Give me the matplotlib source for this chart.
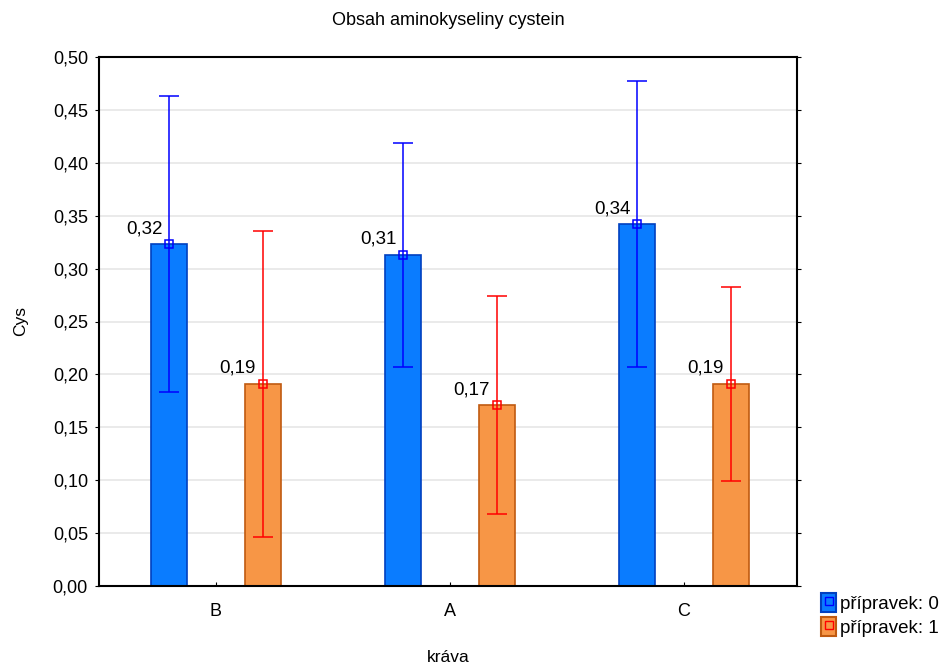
import numpy as np
import matplotlib.pyplot as plt
from matplotlib.patches import Patch
from matplotlib.lines import Line2D

plt.rcParams['font.family'] = ['Liberation Sans', 'DejaVu Sans']
plt.rcParams['font.size'] = 13

kravy = ['B', 'A', 'C']
prumer_0 = [0.323, 0.313, 0.342]
chyba_0 = [0.140, 0.106, 0.135]
prumer_1 = [0.191, 0.171, 0.191]
chyba_1 = [0.145, 0.103, 0.092]
popisky_0 = ['0,32', '0,31', '0,34']
popisky_1 = ['0,19', '0,17', '0,19']

x = np.arange(len(kravy))
sirka = 0.155
posun = 0.2

fig = plt.figure(figsize=(9.46, 6.64), dpi=100)
ax = fig.add_axes([99/946, 78/664, 698/946, 529/664])

ax.bar(x - posun, prumer_0, sirka, color='#0a7cff', edgecolor='#0040c0',
       linewidth=1.2, zorder=2)
ax.bar(x + posun, prumer_1, sirka, color='#f79646', edgecolor='#c05a10',
       linewidth=1.2, zorder=2)
ax.errorbar(x - posun, prumer_0, yerr=chyba_0, fmt='s', color='#0000ff',
            mfc='none', mec='#0000ff', ms=6, mew=1.1, elinewidth=1.1,
            capsize=7, capthick=1.1, zorder=3)
ax.errorbar(x + posun, prumer_1, yerr=chyba_1, fmt='s', color='#ff0000',
            mfc='none', mec='#ff0000', ms=6, mew=1.1, elinewidth=1.1,
            capsize=7, capthick=1.1, zorder=3)

# popisky prumeru vlevo nad znackou
for xi, yi, t in zip(x - posun, prumer_0, popisky_0):
    ax.annotate(t, (xi, yi), xytext=(-5, 5), textcoords='offset points',
                ha='right', va='bottom', fontsize=13.5)
for xi, yi, t in zip(x + posun, prumer_1, popisky_1):
    ax.annotate(t, (xi, yi), xytext=(-5, 5), textcoords='offset points',
                ha='right', va='bottom', fontsize=13.5)

ax.set_xlim(-0.5, 2.483)
ax.set_ylim(0, 0.5)
yt = np.arange(0, 0.501, 0.05)
ax.set_yticks(yt)
ax.set_yticklabels([f'{v:.2f}'.replace('.', ',') for v in yt])
ax.set_xticks(x)
ax.set_xticklabels(kravy)
ax.tick_params(axis='x', direction='in', length=3, pad=12)
ax.tick_params(axis='y', direction='out', length=3, right=True, pad=5)
ax.grid(axis='y', color='#e6e6e6', linewidth=1.2, zorder=0)
ax.set_axisbelow(True)
for s in ax.spines.values():
    s.set_linewidth(1.5)

ax.set_title('Obsah aminokyseliny cystein', fontsize=13, pad=23)
ax.set_xlabel('kráva', fontsize=12.5, labelpad=22)
ax.set_ylabel('Cys', fontsize=12.5, labelpad=18)

h0 = (Patch(facecolor='#0a7cff', edgecolor='#0040c0', linewidth=1.5),
      Line2D([], [], marker='s', ls='none', mfc='none', mec='#0000ff', ms=6))
h1 = (Patch(facecolor='#f79646', edgecolor='#c05a10', linewidth=1.5),
      Line2D([], [], marker='s', ls='none', mfc='none', mec='#ff0000', ms=6))
fig.legend([h0, h1], ['přípravek: 0', 'přípravek: 1'], loc='upper left',
           bbox_to_anchor=(806/946, 1 - 578/664), frameon=False, fontsize=13.5,
           handlelength=0.8, handleheight=1.2, handletextpad=0.2,
           labelspacing=0.2, borderpad=0.3)

fig.savefig('out.png', dpi=100)
